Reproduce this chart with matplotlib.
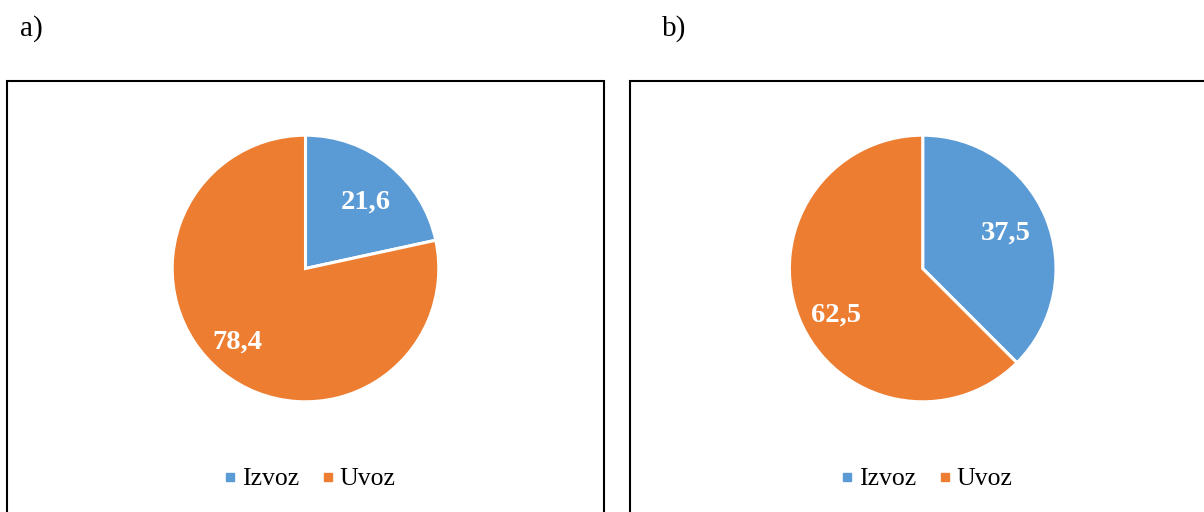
import matplotlib
matplotlib.use("Agg")
import matplotlib.pyplot as plt
from matplotlib.patches import Rectangle
from matplotlib.lines import Line2D
import numpy as np

plt.rcParams['font.family'] = ['Liberation Serif', 'DejaVu Serif']

categories = ["Izvoz", "Uvoz"]
values_a = [21.6, 78.4]
values_b = [37.5, 62.5]
labels_a = ["21,6", "78,4"]
labels_b = ["37,5", "62,5"]
panel_titles = ["a)", "b)"]
colors = ["#5B9BD5", "#ED7D31"]

W, H = 1204, 512
fig = plt.figure(figsize=(W / 100, H / 100), dpi=100)
fig.patch.set_facecolor("white")

def px_axes(cx, cy, r):
    return fig.add_axes([(cx - r) / W, (H - cy - r) / H, 2 * r / W, 2 * r / H])

# Frames
frames = [(7, 81, 597, 500), (630, 81, 600, 500)]
for (x, y, w, h) in frames:
    fig.patches.append(Rectangle((x / W, (H - y - h) / H), w / W, h / H,
                                 transform=fig.transFigure, fill=False,
                                 edgecolor="black", linewidth=1.5))

# (values, labels, centre x px, label distance, label angle offset)
panels = [(values_a, labels_a, 305.5, [0.69, 0.73], [-2.1, -5.3]),
          (values_b, labels_b, 922.7, [0.69, 0.73], [2.4, 3.9])]
title_x = [20, 662]

for i, (vals, labs, cx, dists, offs) in enumerate(panels):
    cy, r = 268.5, 133.3
    ax = px_axes(cx, cy, r)
    wedges, _ = ax.pie(vals, colors=colors, startangle=90, counterclock=False,
                       wedgeprops=dict(edgecolor="white", linewidth=2.2, clip_on=False))
    ax.set_xlim(-1.0, 1.0)
    ax.set_ylim(-1.0, 1.0)
    ax.set_aspect("equal")
    ax.axis("off")
    for w_, lab, d, o in zip(wedges, labs, dists, offs):
        ang = np.deg2rad((w_.theta1 + w_.theta2) / 2 + o)
        ax.text(d * np.cos(ang), d * np.sin(ang) - 0.075, lab, ha="center", va="baseline",
                color="white", fontsize=20.5, fontweight="bold")
    handles = [Line2D([], [], marker="s", linestyle="none", markersize=5.8,
                      markerfacecolor=c, markeredgecolor=c) for c in colors]
    fig.legend(handles, categories, loc="center", bbox_to_anchor=((cx + 4) / W, (H - 479) / H),
               ncol=2, frameon=False, fontsize=18.5, handletextpad=0.22,
               columnspacing=0.86, handlelength=0.5, borderpad=0, borderaxespad=0)
    fig.text(title_x[i] / W, (H - 29) / H, panel_titles[i], fontsize=21,
             ha="left", va="center")

fig.savefig("out.png", dpi=100, facecolor="white")
